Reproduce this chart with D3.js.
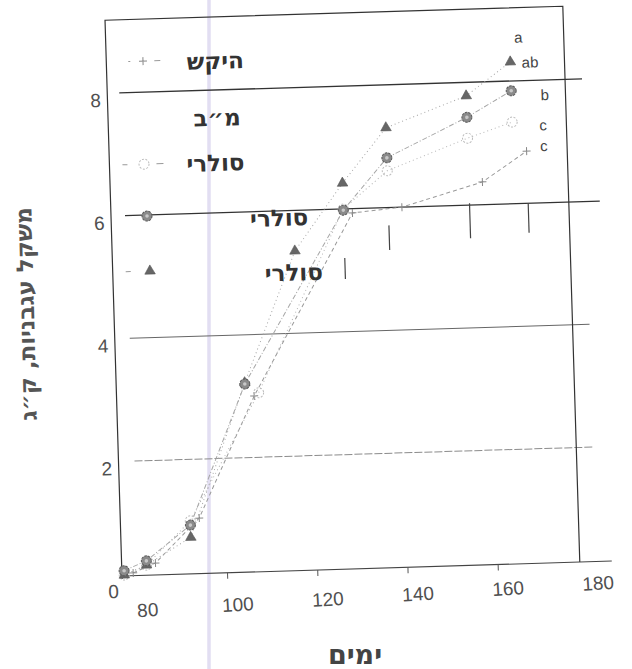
<!DOCTYPE html>
<html>
<head>
<meta charset="utf-8">
<script src="https://cdn.jsdelivr.net/npm/d3@7"></script>
<style>
    body { margin: 0; background: #fff; }
    svg text { font-family: "Liberation Sans", "DejaVu Sans", sans-serif; }
    .heb { font-family: "DejaVu Sans", sans-serif; font-weight: bold; }
</style>
</head>
<body>
<div class="chart"></div>
<script>
// series names as in the legend (top to bottom)
const seriesNames = ["היקש", "מ״ב", "סולרי", "סולרי", "סולרי"];

// היקש (plus)
const hekeshDays = [77, 82, 92, 105, 128, 139, 157, 167];
const hekeshWeight = [0.18, 0.33, 1.04, 3.0, 5.93, 6.0, 6.37, 6.85];
// סולרי (open circle)
const openDays = [75, 80, 90, 106, 126, 136, 154, 164];
const openWeight = [0.15, 0.3, 1.0, 3.05, 6.0, 6.6, 7.09, 7.33];
// סולרי (filled circle)
const gearDays = [75, 80, 90, 103, 126, 136, 154, 164];
const gearWeight = [0.22, 0.37, 0.93, 3.2, 5.98, 6.81, 7.43, 7.84];
// סולרי (triangle)
const triDays = [75, 80, 90, 103, 115, 126, 136, 154, 164];
const triWeight = [0.15, 0.3, 0.73, 3.22, 5.34, 6.42, 7.3, 7.78, 8.31];

// significance letters at the end of the curves
const letters = ["a", "ab", "b", "c", "c"];
const letterDays = [165, 166.5, 170.5, 170, 170];
const letterWeight = [8.71, 8.3, 7.76, 7.27, 6.93];

// vertical bars hanging under the 6 line
const barDays = [126, 136, 154, 167];
const barLow = [4.86, 5.31, 5.46, 5.52];
const barHigh = [5.2, 5.71, 6.03, 6.0];

const xTickLabels = [80, 100, 120, 140, 160, 180];
const xTickMarks = [100, 120, 140, 160];
const yTicks = [0, 2, 4, 6, 8];

const xTitle = "ימים";
const yTitle = "משקל עגבניות, ק״ג";

const W = 632;
const H = 669;
const frameW = 458;
const frameH = 556;

const svg = d3.select(".chart").append("svg")
    .attr("width", W)
    .attr("height", H);

// scanner streak
svg.append("line")
    .attr("x1", 209).attr("x2", 209)
    .attr("y1", 0).attr("y2", H)
    .attr("stroke", "#e2def2")
    .attr("stroke-width", 3.5);

// the scanned page is slightly rotated
const g = svg.append("g")
    .attr("transform", "translate(122,576) rotate(-1.75) translate(0," + (-frameH) + ")");

// the bottom of the frame sits a little above zero
const xScale = d3.scaleLinear().domain([74.5, 176]).range([0, frameW]);
const yScale = d3.scaleLinear().domain([0, 9.19]).range([564.3, 0]);

// horizontal lines
const gridStyle = {
    2: { x0: 16, x1: 475, color: "#8c8c8c", width: 1, dash: "8,2" },
    4: { x0: 15, x1: 475, color: "#666", width: 1, dash: null },
    6: { x0: 14, x1: 489, color: "#333", width: 1.3, dash: null },
    8: { x0: 12, x1: 475, color: "#333", width: 1.3, dash: null },
};
g.selectAll(".grid")
    .data(yTicks.filter(d => d > 0))
    .enter()
    .append("line")
    .attr("class", "grid")
    .attr("x1", d => gridStyle[d].x0)
    .attr("x2", d => gridStyle[d].x1)
    .attr("y1", d => yScale(d))
    .attr("y2", d => yScale(d))
    .attr("stroke", d => gridStyle[d].color)
    .attr("stroke-width", d => gridStyle[d].width)
    .attr("stroke-dasharray", d => gridStyle[d].dash);

// frame
g.append("path")
    .attr("d", "M0," + (frameH + 3) + "V0H" + frameW + "V" + frameH)
    .attr("fill", "none")
    .attr("stroke", "#333")
    .attr("stroke-width", 1.2);

g.append("line")
    .attr("x1", 0).attr("x2", 490)
    .attr("y1", frameH).attr("y2", frameH)
    .attr("stroke", "#444")
    .attr("stroke-width", 1.1);

const xAxis = g.append("g")
    .attr("transform", "translate(0," + frameH + ")")
    .call(d3.axisBottom(xScale).tickValues(xTickMarks).tickSize(6).tickFormat(""));
xAxis.select(".domain").remove();
xAxis.selectAll(".tick line")
    .attr("transform", "translate(-10,0)")
    .attr("stroke", "#555");

// hanging bars
g.selectAll(".bar")
    .data(barDays)
    .enter()
    .append("line")
    .attr("class", "bar")
    .attr("x1", d => xScale(d))
    .attr("x2", d => xScale(d))
    .attr("y1", (d, i) => yScale(barHigh[i]))
    .attr("y2", (d, i) => yScale(barLow[i]))
    .attr("stroke", "#444")
    .attr("stroke-width", 1.2);

// y tick labels
g.selectAll(".ylab")
    .data(yTicks)
    .enter()
    .append("text")
    .attr("class", "ylab")
    .attr("x", d => (d === 0 ? -9 : -12))
    .attr("y", d => yScale(d) + 7)
    .attr("text-anchor", "middle")
    .attr("dominant-baseline", "central")
    .attr("font-size", 19)
    .attr("fill", "#505050")
    .text(d => d);

// x tick labels sit on a slightly more tilted strip
const xl = svg.append("g").attr("transform", "translate(123,611.5) rotate(-3.4)");
xl.selectAll("text")
    .data(xTickLabels)
    .enter()
    .append("text")
    .attr("x", d => xScale(d))
    .attr("y", 0)
    .attr("text-anchor", "middle")
    .attr("dominant-baseline", "central")
    .attr("font-size", 19)
    .attr("fill", "#505050")
    .text(d => d);

// series
const series = [
    { days: hekeshDays, vals: hekeshWeight, shape: "plus", stroke: "#999", dash: "4,3" },
    { days: openDays, vals: openWeight, shape: "open", stroke: "#b4b4b4", dash: "1,3" },
    { days: gearDays, vals: gearWeight, shape: "gear", stroke: "#a6a6a6", dash: "5,2,1,2" },
    { days: triDays, vals: triWeight, shape: "tri", stroke: "#a6a6a6", dash: "1,3" },
];

const line = d3.line().x(d => xScale(d[0])).y(d => yScale(d[1]));

const drawMarker = (sel, shape) => {
    if (shape === "plus") {
        sel.append("path").attr("d", "M-4,0H4M0,-4V4")
            .attr("stroke", "#888").attr("stroke-width", 1).attr("fill", "none");
    } else if (shape === "open") {
        sel.append("circle").attr("r", 5)
            .attr("fill", "none").attr("stroke", "#bbb").attr("stroke-width", 1)
            .attr("stroke-dasharray", "2,1.5");
    } else if (shape === "gear") {
        sel.append("circle").attr("r", 5)
            .attr("fill", "#8a8a8a").attr("stroke", "#5a5a5a").attr("stroke-width", 1)
            .attr("stroke-dasharray", "2.5,1");
        sel.append("circle").attr("r", 1.8)
            .attr("fill", "#c8c8c8");
    } else if (shape === "tri") {
        sel.append("path").attr("d", d3.symbol(d3.symbolTriangle, 48)())
            .attr("fill", "#666").attr("stroke", "#555").attr("stroke-width", 0.6);
    }
};

series.forEach(s => {
    const pts = s.days.map((d, i) => [d, s.vals[i]]);
    g.append("path")
        .datum(pts)
        .attr("d", line)
        .attr("fill", "none")
        .attr("stroke", s.stroke)
        .attr("stroke-width", 1)
        .attr("stroke-dasharray", s.dash);
});

// markers drawn last so the upper ones stay visible
[series[0], series[1], series[3], series[2]].forEach(s => {
    const pts = s.days.map((d, i) => [d, s.vals[i]]);
    g.selectAll(null)
        .data(pts)
        .enter()
        .append("g")
        .attr("transform", d => "translate(" + xScale(d[0]) + "," + yScale(d[1]) + ")")
        .each(function () { drawMarker(d3.select(this), s.shape); });
});

// significance letters
g.selectAll(".sig")
    .data(letters)
    .enter()
    .append("text")
    .attr("class", "sig")
    .attr("x", (d, i) => xScale(letterDays[i]))
    .attr("y", (d, i) => yScale(letterWeight[i]))
    .attr("dominant-baseline", "central")
    .attr("font-size", 15)
    .attr("fill", "#444")
    .text(d => d);

// legend (inside the frame, top left)
const legendLayout = [
    { mx: 36.7, my: 42, tx: 109, ty: 44, shape: "plus", dashes: [[22, 24], [48, 54]] },
    { mx: null, my: 101, tx: 109, ty: 101, shape: null, dashes: [] },
    { mx: 34.6, my: 145, tx: 106, ty: 146, shape: "open", dashes: [[13, 18], [47, 54]] },
    { mx: 36, my: 197, tx: 168, ty: 203, shape: "gear", dashes: [] },
    { mx: 37.3, my: 252, tx: 181, ty: 258, shape: "tri", dashes: [[13, 18]] },
];
legendLayout.forEach((l, i) => {
    l.dashes.forEach(dd => {
        g.append("line")
            .attr("x1", dd[0]).attr("x2", dd[1])
            .attr("y1", l.my).attr("y2", l.my)
            .attr("stroke", "#999").attr("stroke-width", 1);
    });
    if (l.shape) {
        const m = g.append("g").attr("transform", "translate(" + l.mx + "," + l.my + ")");
        drawMarker(m, l.shape);
    }
    g.append("text")
        .attr("class", "heb")
        .attr("x", l.tx)
        .attr("y", l.ty)
        .attr("text-anchor", "middle")
        .attr("dominant-baseline", "central")
        .attr("font-size", 23)
        .attr("fill", "#333")
        .text(seriesNames[i]);
});

// axis titles
svg.append("text")
    .attr("class", "heb")
    .attr("transform", "translate(26,314) rotate(-91.5)")
    .attr("text-anchor", "middle")
    .attr("dominant-baseline", "central")
    .attr("font-size", 23)
    .attr("fill", "#555")
    .text(yTitle);

svg.append("text")
    .attr("class", "heb")
    .attr("x", 355)
    .attr("y", 654)
    .attr("text-anchor", "middle")
    .attr("dominant-baseline", "central")
    .attr("font-size", 27)
    .attr("fill", "#444")
    .text(xTitle);
</script>
</body>
</html>
